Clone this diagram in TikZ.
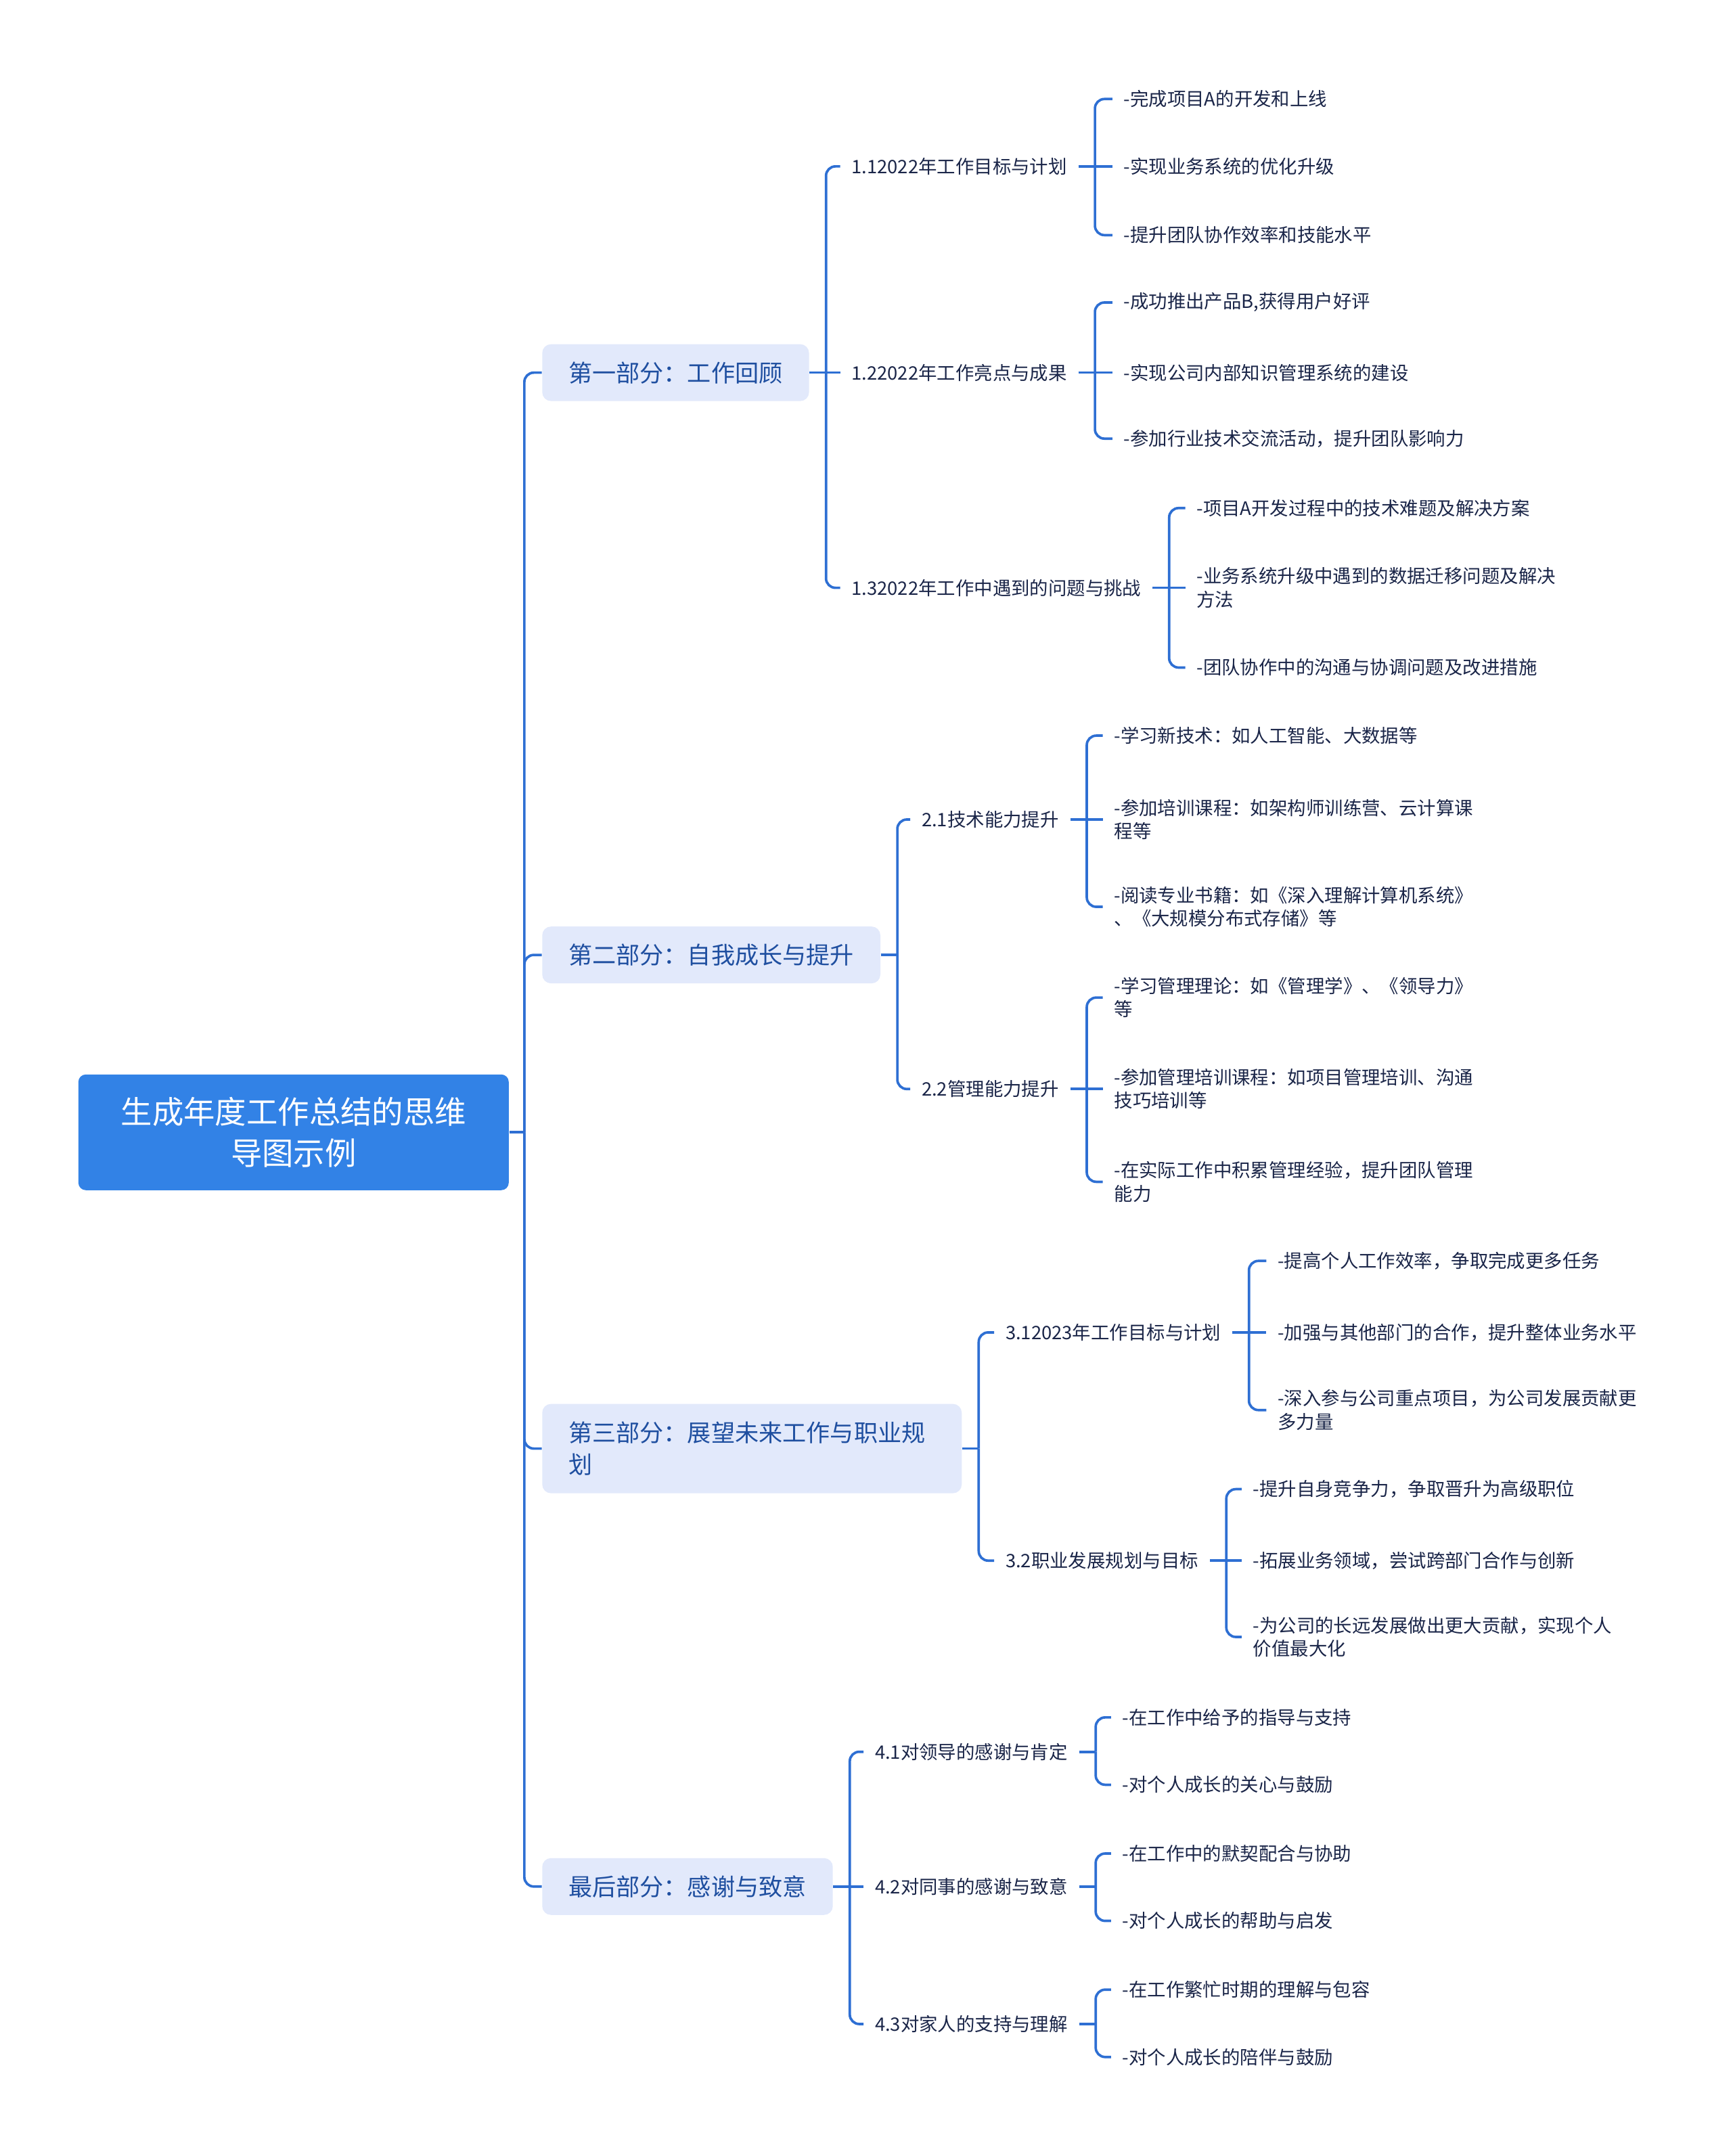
\documentclass[tikz,border=0pt]{standalone}
\usepackage{fontspec}
\setmainfont{Noto Sans CJK SC}

\definecolor{rootblue}{HTML}{3282E6}
\definecolor{partfill}{HTML}{E2E9FB}
\definecolor{parttext}{HTML}{1F4FA0}
\definecolor{inktext}{HTML}{1A2548}
\definecolor{linkblue}{HTML}{2E6FD3}

\begin{document}
\begin{tikzpicture}[
    x=0.2032mm, y=-0.2032mm,
    every node/.style={inner ysep=0pt},
    root/.style={rectangle, rounded corners=1.1mm, fill=rootblue, text=white, font=\fontsize{13.2}{17.3}\selectfont, minimum width=63.6mm, minimum height=17.1mm, align=center},
    part/.style={rectangle, rounded corners=1.3mm, fill=partfill, text=parttext, font=\fontsize{10}{13.3}\selectfont, minimum height=8.4mm, inner xsep=3.9mm, anchor=west, align=left},
    topic/.style={anchor=west, inner xsep=1.63mm, text=inktext, font=\fontsize{7.8}{9.8}\selectfont},
    leaf/.style={topic, align=left},
    link/.style={draw=linkblue, line width=1.05pt, rounded corners=1.4mm}
]
\useasboundingbox (0,0) rectangle (1260,1568);

% root and main parts
\node[root] (r) at (213.5,823.5) {生成年度工作总结的思维\\导图示例};
\node[part] (p1) at (394,271) {第一部分：工作回顾};
\node[part] (p2) at (394,694.5) {第二部分：自我成长与提升};
\node[part, minimum height=13.2mm, text width=54.2mm] (p3) at (394,1053.5) {第三部分：展望未来工作与职业规\\划};
\node[part] (p4) at (394,1372) {最后部分：感谢与致意};

% part 1
\node[topic] (n11) at (611,121) {1.12022年工作目标与计划};
\node[topic] (n12) at (611,271) {1.22022年工作亮点与成果};
\node[topic] (n13) at (611,427.5) {1.32022年工作中遇到的问题与挑战};
\node[leaf] (l111) at (809,72) {-完成项目A的开发和上线};
\node[leaf] (l112) at (809,121) {-实现业务系统的优化升级};
\node[leaf] (l113) at (809,171) {-提升团队协作效率和技能水平};
\node[leaf] (l121) at (809,220) {-成功推出产品B,获得用户好评};
\node[leaf] (l122) at (809,271) {-实现公司内部知识管理系统的建设};
\node[leaf] (l123) at (809,319) {-参加行业技术交流活动，提升团队影响力};
\node[leaf] (l131) at (862,369.5) {-项目A开发过程中的技术难题及解决方案};
\node[leaf] (l132) at (862,427.5) {-业务系统升级中遇到的数据迁移问题及解决\\方法};
\node[leaf] (l133) at (862,485.5) {-团队协作中的沟通与协调问题及改进措施};

% part 2
\node[topic] (n21) at (662,596) {2.1技术能力提升};
\node[topic] (n22) at (662,792) {2.2管理能力提升};
\node[leaf] (l211) at (802,535) {-学习新技术：如人工智能、大数据等};
\node[leaf] (l212) at (802,596) {-参加培训课程：如架构师训练营、云计算课\\程等};
\node[leaf] (l213) at (802,659.5) {-阅读专业书籍：如《深入理解计算机系统》\\、《大规模分布式存储》等};
\node[leaf] (l221) at (802,725.5) {-学习管理理论：如《管理学》、《领导力》\\等};
\node[leaf] (l222) at (802,792) {-参加管理培训课程：如项目管理培训、沟通\\技巧培训等};
\node[leaf] (l223) at (802,859.5) {-在实际工作中积累管理经验，提升团队管理\\能力};

% part 3
\node[topic] (n31) at (723,969) {3.12023年工作目标与计划};
\node[topic] (n32) at (723,1135) {3.2职业发展规划与目标};
\node[leaf] (l311) at (921,917) {-提高个人工作效率，争取完成更多任务};
\node[leaf] (l312) at (921,969) {-加强与其他部门的合作，提升整体业务水平};
\node[leaf] (l313) at (921,1025.5) {-深入参与公司重点项目，为公司发展贡献更\\多力量};
\node[leaf] (l321) at (903,1083) {-提升自身竞争力，争取晋升为高级职位};
\node[leaf] (l322) at (903,1135) {-拓展业务领域，尝试跨部门合作与创新};
\node[leaf] (l323) at (903,1190.5) {-为公司的长远发展做出更大贡献，实现个人\\价值最大化};

% part 4
\node[topic] (n41) at (628,1274) {4.1对领导的感谢与肯定};
\node[topic] (n42) at (628,1372) {4.2对同事的感谢与致意};
\node[topic] (n43) at (628,1472) {4.3对家人的支持与理解};
\node[leaf] (l411) at (808,1249) {-在工作中给予的指导与支持};
\node[leaf] (l412) at (808,1298) {-对个人成长的关心与鼓励};
\node[leaf] (l421) at (808,1348) {-在工作中的默契配合与协助};
\node[leaf] (l422) at (808,1397) {-对个人成长的帮助与启发};
\node[leaf] (l431) at (808,1447) {-在工作繁忙时期的理解与包容};
\node[leaf] (l432) at (808,1496) {-对个人成长的陪伴与鼓励};

% connectors
\draw[link] (r.east) -- ++(11,0) coordinate (jr);
\foreach \p in {p1,p2,p3,p4}
    \draw[link] (jr) |- (\p.west);

\draw[link] (p1.east) -- ++(12,0) coordinate (j1) -- (n12.west);
\draw[link] (j1) |- (n11.west);
\draw[link] (j1) |- (n13.west);
\draw[link] (n11.east) -- ++(12,0) coordinate (j11) -- (l112.west);
\draw[link] (j11) |- (l111.west);
\draw[link] (j11) |- (l113.west);
\draw[link] (n12.east) -- ++(12,0) coordinate (j12) -- (l122.west);
\draw[link] (j12) |- (l121.west);
\draw[link] (j12) |- (l123.west);
\draw[link] (n13.east) -- ++(12,0) coordinate (j13) -- (l132.west);
\draw[link] (j13) |- (l131.west);
\draw[link] (j13) |- (l133.west);

\draw[link] (p2.east) -- ++(12,0) coordinate (j2);
\draw[link] (j2) |- (n21.west);
\draw[link] (j2) |- (n22.west);
\draw[link] (n21.east) -- ++(12,0) coordinate (j21) -- (l212.west);
\draw[link] (j21) |- (l211.west);
\draw[link] (j21) |- (l213.west);
\draw[link] (n22.east) -- ++(12,0) coordinate (j22) -- (l222.west);
\draw[link] (j22) |- (l221.west);
\draw[link] (j22) |- (l223.west);

\draw[link] (p3.east) -- ++(12,0) coordinate (j3);
\draw[link] (j3) |- (n31.west);
\draw[link] (j3) |- (n32.west);
\draw[link] (n31.east) -- ++(12,0) coordinate (j31) -- (l312.west);
\draw[link] (j31) |- (l311.west);
\draw[link] (j31) |- (l313.west);
\draw[link] (n32.east) -- ++(12,0) coordinate (j32) -- (l322.west);
\draw[link] (j32) |- (l321.west);
\draw[link] (j32) |- (l323.west);

\draw[link] (p4.east) -- ++(12,0) coordinate (j4) -- (n42.west);
\draw[link] (j4) |- (n41.west);
\draw[link] (j4) |- (n43.west);
\draw[link] (n41.east) -- ++(12,0) coordinate (j41);
\draw[link] (j41) |- (l411.west);
\draw[link] (j41) |- (l412.west);
\draw[link] (n42.east) -- ++(12,0) coordinate (j42);
\draw[link] (j42) |- (l421.west);
\draw[link] (j42) |- (l422.west);
\draw[link] (n43.east) -- ++(12,0) coordinate (j43);
\draw[link] (j43) |- (l431.west);
\draw[link] (j43) |- (l432.west);
\end{tikzpicture}
\end{document}
